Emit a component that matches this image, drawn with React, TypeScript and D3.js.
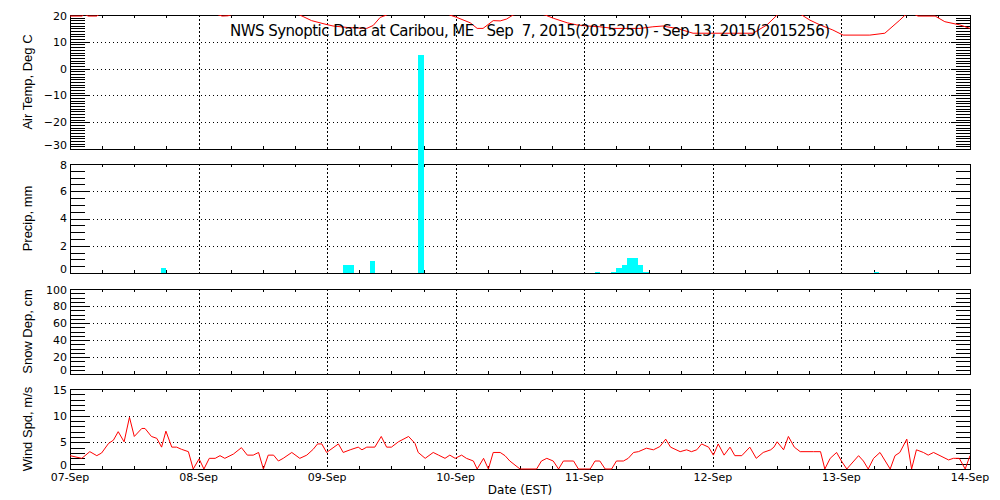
import React from "react";
import * as d3 from "d3";

const DAY_LABELS = ["07-Sep", "08-Sep", "09-Sep", "10-Sep", "11-Sep", "12-Sep", "13-Sep", "14-Sep"];
const TITLE = "NWS Synoptic Data at Caribou, ME   Sep  7, 2015(2015250) - Sep 13, 2015(2015256)";

// Air temperature (hours since 07-Sep 00:00, deg C) – values above 20 are off-scale estimates
const tempHours = [0, 2.3, 2.6, 3.4, 5.0, 5.6, 10, 15, 20, 25, 27.5, 28.4, 29.5, 30.5, 36, 40, 42.9, 45.1, 47.6, 49.1, 52, 55.4, 56.6, 57.9, 59.1, 63, 67, 70.9, 72.2, 74.7, 76.0, 77.1, 79.0, 80.3, 81.5, 82.7, 85.5, 88.7, 90.2, 92.8, 94.6, 96.5, 98.9, 101.4, 106.4, 108.8, 110.7, 111.4, 113.3, 116.3, 127.5, 130.1, 132.0, 134.3, 136.6, 138.1, 140.0, 142.4, 144.3, 149.3, 152.1, 154.9, 155.9, 157.2, 158.3, 161.5, 163.3, 166.1, 168];
const tempValues = [19.6, 19.6, 20.4, 19.6, 19.6, 20.5, 23, 25, 23, 21, 20.2, 19.6, 19.7, 20.4, 24, 22, 20.0, 17.9, 16.6, 15.9, 15.3, 15.0, 16.1, 19.1, 20.0, 24, 23, 20.0, 19.1, 17.1, 15.0, 15.0, 17.9, 17.8, 18.5, 20.0, 21.5, 20.0, 18.8, 17.1, 16.3, 15.9, 15.6, 15.0, 15.0, 15.6, 15.9, 15.6, 15.0, 13.2, 13.2, 16.3, 20.0, 21.5, 20.0, 18.1, 16.3, 14.4, 12.5, 12.5, 13.2, 18.1, 20.0, 20.6, 19.6, 19.6, 17.5, 16.3, 15.0];

// Hourly precipitation (hour start, mm)
const precipHours = [17, 51, 52, 56, 65, 98, 101, 102, 103, 104, 105, 106, 107, 150];
const precipValues = [0.4, 0.6, 0.6, 0.9, 16.0, 0.1, 0.1, 0.4, 0.6, 1.1, 1.1, 0.6, 0.1, 0.1];

// Wind speed (hour, m/s)
const windHours = [0, 2.2, 3.7, 5.0, 5.9, 7.2, 8.1, 9.0, 10.1, 11.1, 12.0, 13.4, 14.0, 15.2, 16.2, 17.1, 17.9, 19.0, 19.9, 20.8, 22.1, 23.0, 24.1, 25.0, 26.0, 27.1, 28.0, 28.9, 30.5, 32.0, 33.1, 34.2, 35.2, 36.1, 37.0, 38.0, 38.9, 39.8, 41.4, 42.9, 44.2, 45.4, 46.2, 47.0, 47.9, 50.1, 51.0, 52.3, 53.8, 54.5, 55.4, 56.9, 58.1, 59.1, 60.0, 61.3, 63.2, 64.4, 65.0, 66.3, 67.8, 68.8, 70.0, 70.9, 71.9, 73.1, 74.0, 75.3, 76.0, 77.2, 78.1, 79.0, 80.3, 81.2, 82.1, 84.0, 87.1, 88.0, 89.0, 90.2, 91.2, 92.1, 94.0, 94.9, 97.1, 98.0, 98.9, 99.9, 101.1, 102.0, 103.3, 104.2, 105.2, 106.1, 107.6, 108.9, 110.1, 111.2, 112.1, 113.9, 115.1, 116.0, 117.0, 117.9, 119.2, 120.1, 121.0, 122.1, 123.2, 124.1, 125.4, 126.9, 128.1, 129.4, 130.8, 131.4, 132.0, 133.2, 134.1, 135.2, 136.3, 138.8, 140.1, 140.9, 141.9, 143.1, 144.0, 145.0, 147.2, 148.1, 149.0, 150.0, 151.2, 153.1, 154.0, 154.9, 156.2, 157.1, 158.0, 159.3, 160.2, 161.2, 162.4, 164.0, 164.9, 166.0, 167.1, 168.0];
const windValues = [2.5, 2.0, 3.25, 2.5, 3.0, 4.8, 5.4, 7.0, 5.1, 9.7, 6.1, 7.6, 7.6, 6.1, 5.75, 4.1, 7.1, 4.1, 4.1, 3.7, 3.25, 0, 1.9, 0, 2.0, 2.0, 2.5, 2.0, 2.8, 4.0, 2.6, 2.6, 3.1, 0, 2.6, 2.6, 1.5, 2.0, 3.1, 2.0, 2.6, 3.7, 4.7, 4.7, 3.1, 4.7, 3.1, 3.6, 4.1, 3.6, 4.1, 4.1, 6.1, 4.1, 4.1, 5.1, 6.1, 4.8, 3.1, 2.0, 3.1, 2.6, 2.0, 2.6, 2.0, 2.6, 2.0, 1.5, 0, 2.0, 0, 3.1, 3.1, 2.5, 1.5, 0, 0, 1.5, 2.0, 1.5, 0, 1.5, 1.5, 0, 0, 1.5, 1.5, 0, 0, 1.5, 1.5, 2.0, 3.1, 3.25, 3.9, 3.6, 4.2, 5.6, 4.1, 3.25, 3.6, 3.25, 3.6, 4.7, 4.1, 2.6, 4.7, 2.6, 4.1, 2.5, 2.5, 4.1, 2.0, 3.1, 3.6, 4.1, 5.1, 3.6, 6.1, 4.1, 3.25, 3.25, 3.25, 0, 2.0, 3.1, 1.5, 0, 2.5, 1.5, 0, 2.0, 3.1, 0, 2.5, 3.1, 5.6, 0, 3.6, 3.1, 2.6, 3.1, 2.5, 1.7, 2.0, 2.0, 0, 2.5];

const FONT = "'DejaVu Sans', 'Liberation Sans', sans-serif";
const FONT2 = "'Liberation Sans', Arial, sans-serif";
const X0 = 70, X1 = 970;

type Panel = { top: number; bottom: number; domain: [number, number]; major: number; minor: number; title: string; };
const panels: Panel[] = [
  { top: 15, bottom: 149, domain: [-30, 20], major: 10, minor: 1, title: "Air Temp, Deg C" },
  { top: 164, bottom: 273, domain: [0, 8], major: 2, minor: 0.5, title: "Precip, mm" },
  { top: 289, bottom: 374, domain: [0, 100], major: 20, minor: 5, title: "Snow Dep, cm" },
  { top: 389, bottom: 469, domain: [0, 15], major: 5, minor: 1, title: "Wind Spd, m/s" },
];

const x = d3.scaleLinear().domain([0, 168]).range([X0, X1]);

function PanelFrame({ p }: { p: Panel }) {
  const y = d3.scaleLinear().domain(p.domain).range([p.bottom, p.top]);
  const majors = d3.range(p.domain[0], p.domain[1] + 1e-9, p.major);
  const nMinor = Math.round((p.domain[1] - p.domain[0]) / p.minor);
  const minors = d3.range(0, nMinor + 1).map((i) => p.domain[0] + i * p.minor)
    .filter((v) => Math.abs(v / p.major - Math.round(v / p.major)) > 1e-6);
  const r = (v: number) => Math.round(v) + 0.5;
  const els: React.ReactNode[] = [];
  for (let d = 1; d < 7; d++) {
    const xx = r(x(d * 24));
    els.push(<line key={`vg${d}`} x1={xx} x2={xx} y1={p.top} y2={p.bottom} stroke="#000" strokeDasharray="2,2" />);
  }
  for (let h = 6; h < 168; h += 6) {
    if (h % 24 === 0) continue;
    const xx = r(x(h));
    els.push(<line key={`tt${h}`} x1={xx} x2={xx} y1={p.top} y2={p.top + 3} stroke="#000" />);
    els.push(<line key={`tb${h}`} x1={xx} x2={xx} y1={p.bottom} y2={p.bottom - 3} stroke="#000" />);
  }
  minors.forEach((v, i) => {
    const yy = r(y(v));
    els.push(<line key={`ml${i}`} x1={X0} x2={X0 + 15} y1={yy} y2={yy} stroke="#000" />);
    els.push(<line key={`mr${i}`} x1={X1} x2={X1 - 14} y1={yy} y2={yy} stroke="#000" />);
  });
  majors.forEach((v, i) => {
    const yy = r(y(v));
    const inner = v !== p.domain[0] && v !== p.domain[1];
    if (inner) {
      els.push(<line key={`Ml${i}`} x1={X0} x2={X0 + 19} y1={yy} y2={yy} stroke="#000" />);
      els.push(<line key={`Mr${i}`} x1={X1} x2={X1 - 19} y1={yy} y2={yy} stroke="#000" />);
      els.push(<line key={`hg${i}`} x1={X0 + 19} x2={X1 - 19} y1={yy} y2={yy} stroke="#000" strokeDasharray="1,3" />);
    }
    const ly = Math.max(p.top + 1.5, Math.min(p.bottom - 3.5, y(v)));
    els.push(
      <text key={`lb${i}`} x={67} y={ly} dy="0.36em" textAnchor="end" fontSize={11} fontFamily={FONT} fill="#000">
        {v < 0 ? "\u2212" + Math.abs(v) : String(v)}
      </text>
    );
  });
  els.push(<rect key="frame" x={X0 + 0.5} y={p.top + 0.5} width={X1 - X0} height={p.bottom - p.top} fill="none" stroke="#000" />);
  const cy = (p.top + p.bottom) / 2;
  els.push(
    <text key="yt" transform={`translate(32,${cy}) rotate(-90)`} textAnchor="middle" fontSize={13} fontFamily={FONT2} fill="#000">
      {p.title}
    </text>
  );
  return <g shapeRendering="crispEdges">{els}</g>;
}

export default function App() {
  const [pT, pP, , pW] = panels;
  const yT = d3.scaleLinear().domain(pT.domain).range([pT.bottom, pT.top]);
  const yP = d3.scaleLinear().domain(pP.domain).range([pP.bottom, pP.top]);
  const yW = d3.scaleLinear().domain(pW.domain).range([pW.bottom, pW.top]);
  const tempLine = d3.line<number>().x((_, i) => x(tempHours[i])).y((v) => yT(v))(tempValues) || "";
  const windLine = d3.line<number>().x((_, i) => x(windHours[i])).y((v) => yW(v))(windValues) || "";

  return (
    <svg width={1000} height={500} style={{ position: "fixed", left: 0, top: 0, background: "#fff" }}>
      <defs>
        <clipPath id="clipT"><rect x={X0} y={pT.top} width={X1 - X0} height={pT.bottom - pT.top} /></clipPath>
        <clipPath id="clipW"><rect x={X0} y={pW.top} width={X1 - X0} height={pW.bottom - pW.top + 1} /></clipPath>
      </defs>
      <rect x={0} y={0} width={1000} height={500} fill="#fff" />
      {panels.map((p, i) => <PanelFrame key={i} p={p} />)}
      <path d={tempLine} fill="none" stroke="#ff0000" strokeWidth={1} clipPath="url(#clipT)" />
      <g shapeRendering="crispEdges">
        {precipHours.map((h, i) => (
          <rect key={i} x={Math.round(x(h))} y={Math.round(yP(precipValues[i]))} width={Math.round(x(h + 1)) - Math.round(x(h))}
            height={Math.round(yP(0)) - Math.round(yP(precipValues[i]))} fill="#00ffff" />
        ))}
      </g>
      <path d={windLine} fill="none" stroke="#ff0000" strokeWidth={1} clipPath="url(#clipW)" />
      <text x={530} y={36} textAnchor="middle" fontSize={15} fontFamily={FONT} fill="#000" textLength={600} lengthAdjust="spacing" style={{ whiteSpace: "pre" }}>
        {TITLE}
      </text>
      {DAY_LABELS.map((lab, i) => (
        <text key={lab} x={x(i * 24)} y={481} textAnchor="middle" fontSize={11} fontFamily={FONT} fill="#000">{lab}</text>
      ))}
      <text x={520} y={494} textAnchor="middle" fontSize={12} fontFamily={FONT} fill="#000">Date (EST)</text>
    </svg>
  );
}
